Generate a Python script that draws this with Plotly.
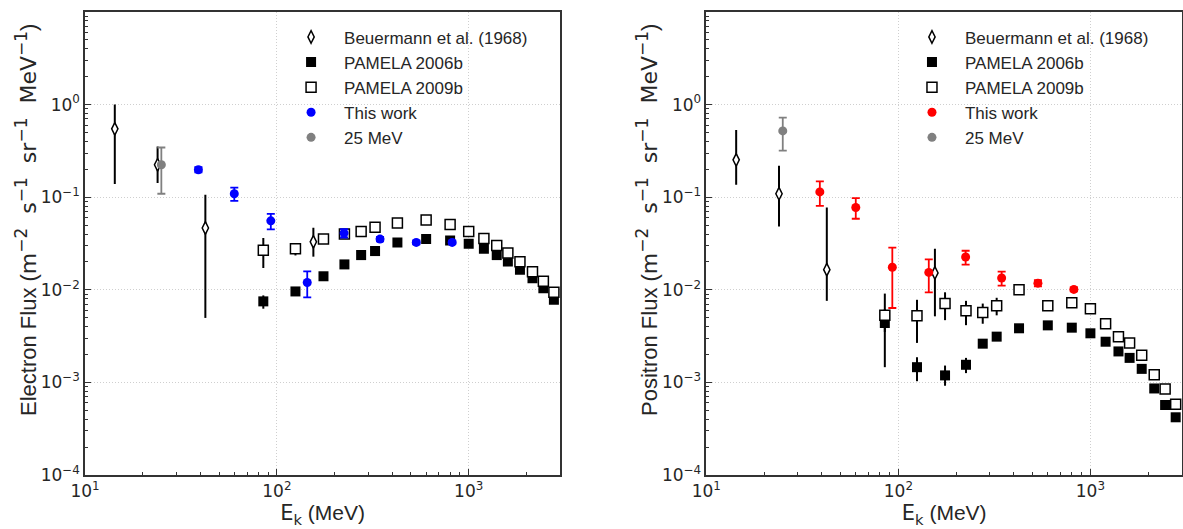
import plotly.graph_objects as go

# energies (MeV)
beu_x = [14.3, 23.9, 42.4, 155]
pam_x = [85, 125, 175, 225, 275, 325, 425, 600, 800, 1000, 1200, 1400, 1600, 1850, 2150, 2450, 2780]
work_x = [39, 60, 93, 144, 224, 345, 533, 820]
mev25_x = [25]

# electrons: value, upper bound, lower bound
beu_e = [0.547, 0.224, 0.0465, 0.033]
beu_e_hi = [1.0, 0.352, 0.106, 0.0468]
beu_e_lo = [0.139, 0.142, 0.00497, 0.0228]

pam06_e = [0.0075, 0.0096, 0.0140, 0.0188, 0.0237, 0.0262, 0.0325, 0.0353, 0.0341,
           0.0314, 0.0277, 0.0237, 0.0202, 0.0165, 0.0133, 0.0104, 0.0078]
pam06_e_hi = [0.0087, 0.0101, 0.0145, 0.0194, 0.0244, 0.0270, 0.0334, 0.0363, 0.0351,
              0.0324, 0.0286, 0.0245, 0.0209, 0.0171, 0.0138, 0.0108, 0.0081]
pam06_e_lo = [0.00625, 0.0091, 0.0135, 0.0182, 0.0230, 0.0254, 0.0316, 0.0343, 0.0331,
              0.0304, 0.0268, 0.0229, 0.0195, 0.0159, 0.0128, 0.0100, 0.0075]

pam09_e = [0.0268, 0.0277, 0.0353, 0.0400, 0.0427, 0.0475, 0.0526, 0.0567, 0.0507,
           0.0427, 0.0358, 0.0301, 0.0249, 0.0201, 0.0157, 0.0124, 0.0094]
pam09_e_hi = [0.0362, 0.0320, 0.0370, 0.0418, 0.0446, 0.0495, 0.0548, 0.0590, 0.0528,
              0.0445, 0.0373, 0.0314, 0.0260, 0.0210, 0.0164, 0.0130, 0.0098]
pam09_e_lo = [0.0172, 0.0235, 0.0336, 0.0382, 0.0408, 0.0455, 0.0504, 0.0544, 0.0486,
              0.0409, 0.0343, 0.0288, 0.0238, 0.0192, 0.0150, 0.0118, 0.0090]

work_e = [0.198, 0.109, 0.0556, 0.0120, 0.0410, 0.0353, 0.0325, 0.0325]
work_e_hi = [0.211, 0.127, 0.0662, 0.0158, 0.0453, 0.0373, 0.0340, 0.0337]
work_e_lo = [0.186, 0.0914, 0.0449, 0.0083, 0.0367, 0.0333, 0.0310, 0.0313]

mev25_e = [0.224]
mev25_e_hi = [0.344]
mev25_e_lo = [0.109]

# positrons
beu_p = [0.253, 0.109, 0.0165, 0.0152]
beu_p_hi = [0.533, 0.218, 0.0774, 0.0277]
beu_p_lo = [0.136, 0.0483, 0.0076, 0.00517]

pam06_p = [0.00438, 0.00146, 0.00119, 0.00155, 0.00262, 0.00312, 0.00384, 0.00413, 0.0039,
           0.00339, 0.00275, 0.00216, 0.00184, 0.0014, 0.00086, 0.00057, 0.00042]
pam06_p_hi = [0.0062, 0.00187, 0.00152, 0.00184, 0.0029, 0.0034, 0.00400, 0.00428, 0.00404,
              0.00352, 0.00286, 0.00225, 0.00192, 0.00146, 0.00090, 0.00060, 0.00044]
pam06_p_lo = [0.00146, 0.00103, 0.00092, 0.00126, 0.00236, 0.0029, 0.00368, 0.00398, 0.00376,
              0.00326, 0.00264, 0.00207, 0.00176, 0.00134, 0.00082, 0.00054, 0.00040]

pam09_p = [0.0053, 0.00525, 0.0071, 0.00594, 0.0057, 0.00673, 0.0100, 0.00673, 0.00726,
           0.00625, 0.0043, 0.00312, 0.00267, 0.00196, 0.00121, 0.00085, 0.00058]
pam09_p_hi = [0.0091, 0.0078, 0.0094, 0.0076, 0.0071, 0.0082, 0.0105, 0.0071, 0.0076,
              0.0065, 0.0045, 0.00326, 0.00279, 0.00205, 0.00127, 0.00089, 0.00061]
pam09_p_lo = [0.0035, 0.00267, 0.0047, 0.00415, 0.0043, 0.0053, 0.0095, 0.0064, 0.0069,
              0.0060, 0.0041, 0.00298, 0.00255, 0.00187, 0.00115, 0.00081, 0.00055]

work_p = [0.114, 0.0774, 0.0175, 0.0154, 0.0226, 0.0134, 0.0118, 0.0101]
work_p_hi = [0.148, 0.0977, 0.0285, 0.0213, 0.0264, 0.0157, 0.0127, 0.0106]
work_p_lo = [0.0807, 0.0585, 0.00636, 0.00938, 0.0187, 0.0111, 0.0109, 0.0096]

mev25_p = [0.52]
mev25_p_hi = [0.724]
mev25_p_lo = [0.319]

x_ticks = [10, 100, 1000]
x_ticktext = ["10<sup>1</sup>", "10<sup>2</sup>", "10<sup>3</sup>"]
y_ticks = [1e-4, 1e-3, 1e-2, 1e-1, 1, 10]
y_ticktext = ["10<sup>\u22124</sup>", "10<sup>\u22123</sup>", "10<sup>\u22122</sup>",
              "10<sup>\u22121</sup>", "10<sup>0</sup>", "10<sup>1</sup>"]

FONT = "Liberation Sans, Arial, sans-serif"
MATH = "DejaVu Sans"
TXT = "#262626"


def err(y, hi, lo):
    return dict(type="data", symmetric=False,
                array=[h - v for v, h in zip(y, hi)],
                arrayminus=[v - l for v, l in zip(y, lo)])


def add_panel(fig, n, beu, beu_hi, beu_lo, p06, p06_hi, p06_lo, p09, p09_hi, p09_lo,
              work, work_hi, work_lo, m25, m25_hi, m25_lo, work_color):
    xa = "x" if n == 1 else "x2"
    ya = "y" if n == 1 else "y2"
    lg = "legend" if n == 1 else "legend2"
    common = dict(xaxis=xa, yaxis=ya, legend=lg, mode="markers")

    e = err(beu, beu_hi, beu_lo)
    e.update(color="black", thickness=2, width=0)
    fig.add_trace(go.Scatter(x=beu_x, y=beu, name="Beuermann et al. (1968)", error_y=e,
                             marker=dict(symbol="diamond-tall", size=9, color="white",
                                         line=dict(color="black", width=1.5)), **common))
    e = err(p06, p06_hi, p06_lo)
    e.update(color="black", thickness=2, width=0)
    fig.add_trace(go.Scatter(x=pam_x, y=p06, name="PAMELA 2006b", error_y=e,
                             marker=dict(symbol="square", size=10, color="black",
                                         line=dict(color="black", width=0)), **common))
    e = err(p09, p09_hi, p09_lo)
    e.update(color="black", thickness=2, width=0)
    fig.add_trace(go.Scatter(x=pam_x, y=p09, name="PAMELA 2009b", error_y=e,
                             marker=dict(symbol="square", size=10, color="white",
                                         line=dict(color="black", width=1.5)), **common))
    e = err(work, work_hi, work_lo)
    e.update(color=work_color, thickness=1.8, width=4)
    fig.add_trace(go.Scatter(x=work_x, y=work, name="This work", error_y=e,
                             marker=dict(symbol="circle", size=9, color=work_color), **common))
    e = err(m25, m25_hi, m25_lo)
    e.update(color="#808080", thickness=1.8, width=4)
    fig.add_trace(go.Scatter(x=mev25_x, y=m25, name="25 MeV", error_y=e,
                             marker=dict(symbol="circle", size=9, color="#808080"), **common))


fig = go.Figure()
add_panel(fig, 1, beu_e, beu_e_hi, beu_e_lo, pam06_e, pam06_e_hi, pam06_e_lo,
          pam09_e, pam09_e_hi, pam09_e_lo, work_e, work_e_hi, work_e_lo,
          mev25_e, mev25_e_hi, mev25_e_lo, "#0000ff")
add_panel(fig, 2, beu_p, beu_p_hi, beu_p_lo, pam06_p, pam06_p_hi, pam06_p_lo,
          pam09_p, pam09_p_hi, pam09_p_lo, work_p, work_p_hi, work_p_lo,
          mev25_p, mev25_p_hi, mev25_p_lo, "#ff0000")

x_minor = [v * 10 ** d for d in range(1, 4) for v in range(2, 10) if v * 10 ** d <= 3000]
y_minor = [v * 10.0 ** d for d in range(-4, 1) for v in range(2, 10)]

axis_common = dict(type="log", showline=True, linecolor="#333333", linewidth=1.5, mirror=True,
                   ticks="inside", ticklen=6, tickwidth=1.2, tickcolor="#333333",
                   showgrid=True, gridcolor="#cfcfcf", griddash="1px,2px", gridwidth=1,
                   zeroline=False, automargin=False,
                   tickfont=dict(size=17, color=TXT, family=MATH))
xaxis = dict(axis_common, range=[1, 3.477], tickvals=x_ticks, ticktext=x_ticktext,
             minor=dict(tickvals=x_minor, ticks="inside", ticklen=3, tickcolor="#333333",
                        showgrid=False),
             title=dict(text="<span style='font-family:DejaVu Sans'>E<sub>k</sub></span> (MeV)",
                        font=dict(size=21, color=TXT, family=FONT), standoff=4))
yaxis = dict(axis_common, range=[-4, 1], tickvals=y_ticks, ticktext=y_ticktext,
             minor=dict(tickvals=y_minor, ticks="inside", ticklen=3, tickcolor="#333333",
                        showgrid=False))


def sup(t):
    return "<sup><span style='font-size:17px'>" + t + "</span></sup>"


ytitle = ("Flux (<span style='font-family:DejaVu Sans'>m" + sup("\u22122") + "\u00a0 s"
          + sup("\u22121") + "\u00a0 sr" + sup("\u22121") + "\u00a0 MeV" + sup("\u22121")
          + "</span>)")

fig.update_layout(
    width=1183, height=529,
    margin=dict(l=85, r=1, t=12, b=54),
    paper_bgcolor="white", plot_bgcolor="white",
    font=dict(family=FONT, color=TXT, size=17),
    xaxis=dict(xaxis, domain=[0.0, 0.4332], anchor="y"),
    yaxis=dict(yaxis, domain=[0.0, 1.0], anchor="x"),
    xaxis2=dict(xaxis, domain=[0.5664, 1.0], anchor="y2"),
    yaxis2=dict(yaxis, domain=[0.0, 1.0], anchor="x2"),
    legend=dict(x=0.176, y=0.984, xanchor="left", yanchor="top", bgcolor="rgba(0,0,0,0)",
                itemwidth=56, font=dict(size=17, color=TXT, family=FONT), tracegroupgap=0),
    legend2=dict(x=0.742, y=0.984, xanchor="left", yanchor="top", bgcolor="rgba(0,0,0,0)",
                 itemwidth=56, font=dict(size=17, color=TXT, family=FONT), tracegroupgap=0),
)

for name, xpos in [("Electron ", -0.0538), ("Positron ", 0.5123)]:
    fig.add_annotation(text=name + ytitle, textangle=-90, xref="paper", yref="paper",
                       x=xpos, y=0.5508, xanchor="center", yanchor="middle", showarrow=False,
                       font=dict(size=22, color=TXT, family=FONT))

# drop the default page margin so the figure fills the window exactly
fig.write_html("out.html", config={"displayModeBar": False},
               post_script="document.body.style.margin='0';")
